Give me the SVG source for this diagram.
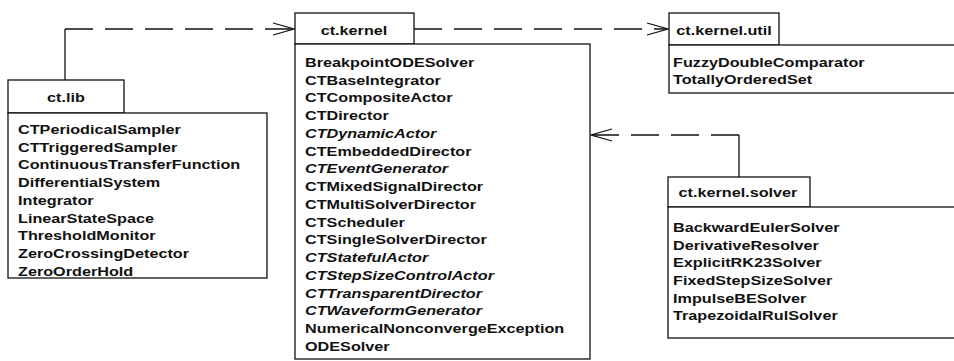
<svg xmlns="http://www.w3.org/2000/svg" width="954" height="361" viewBox="0 0 954 361">
<style>
.box{fill:#fff;stroke:#111;stroke-width:1.3}
.t{font-family:"Liberation Sans",Arial,sans-serif;font-weight:bold;font-size:13.5px;fill:#111}
.i{font-style:italic}
.h{text-anchor:middle}
.dash{fill:none;stroke:#111;stroke-width:1.3;stroke-dasharray:28 12}
.solid{fill:none;stroke:#111;stroke-width:1.3}
</style>
<rect width="954" height="361" fill="#fff"/>
<g id="connectors">
  <path class="solid" d="M65 80 V29"/>
  <path class="dash" d="M65 29 H293"/>
  <path class="solid" d="M273 23 L294 29 L273 35"/>
  <path class="dash" d="M414 29 H667"/>
  <path class="solid" d="M647 23 L668 29 L647 35"/>
  <path class="solid" d="M739 177 V135"/>
  <path class="dash" d="M739 135 H592"/>
  <path class="solid" d="M612 129 L591 135 L612 141"/>
</g>
<g id="ct.lib">
  <rect class="box" x="8" y="80" width="116" height="33"/>
  <rect class="box" x="8" y="113" width="259" height="165"/>
  <g transform="translate(66,0) scale(1.2,1)"><text class="t h" x="0" y="102">ct.lib</text></g>
  <g transform="translate(18,0) scale(1.2,1)">
    <text class="t" x="0" y="134">CTPeriodicalSampler</text>
    <text class="t" x="0" y="152">CTTriggeredSampler</text>
    <text class="t" x="0" y="169.5">ContinuousTransferFunction</text>
    <text class="t" x="0" y="187.5">DifferentialSystem</text>
    <text class="t" x="0" y="205">Integrator</text>
    <text class="t" x="0" y="223">LinearStateSpace</text>
    <text class="t" x="0" y="240.5">ThresholdMonitor</text>
    <text class="t" x="0" y="258.5">ZeroCrossingDetector</text>
    <text class="t" x="0" y="276">ZeroOrderHold</text>
  </g>
</g>
<g id="ct.kernel">
  <rect class="box" x="295" y="13" width="119" height="31"/>
  <rect class="box" x="295" y="44" width="295" height="315"/>
  <g transform="translate(354,0) scale(1.2,1)"><text class="t h" x="0" y="35">ct.kernel</text></g>
  <g transform="translate(305,0) scale(1.2,1)">
    <text class="t" x="0" y="67">BreakpointODESolver</text>
    <text class="t" x="0" y="84.75">CTBaseIntegrator</text>
    <text class="t" x="0" y="102.5">CTCompositeActor</text>
    <text class="t" x="0" y="120.25">CTDirector</text>
    <text class="t i" x="0" y="138">CTDynamicActor</text>
    <text class="t" x="0" y="155.75">CTEmbeddedDirector</text>
    <text class="t i" x="0" y="173.5">CTEventGenerator</text>
    <text class="t" x="0" y="191.25">CTMixedSignalDirector</text>
    <text class="t" x="0" y="209">CTMultiSolverDirector</text>
    <text class="t" x="0" y="226.75">CTScheduler</text>
    <text class="t" x="0" y="244.5">CTSingleSolverDirector</text>
    <text class="t i" x="0" y="262.25">CTStatefulActor</text>
    <text class="t i" x="0" y="280">CTStepSizeControlActor</text>
    <text class="t i" x="0" y="297.75">CTTransparentDirector</text>
    <text class="t i" x="0" y="315.5">CTWaveformGenerator</text>
    <text class="t" x="0" y="333.25">NumericalNonconvergeException</text>
    <text class="t" x="0" y="351">ODESolver</text>
  </g>
</g>
<g id="ct.kernel.util">
  <rect class="box" x="669" y="13" width="110" height="32"/>
  <rect class="box" x="669" y="45" width="300" height="48"/>
  <g transform="translate(724,0) scale(1.2,1)"><text class="t h" x="0" y="35">ct.kernel.util</text></g>
  <g transform="translate(673,0) scale(1.2,1)">
    <text class="t" x="0" y="67">FuzzyDoubleComparator</text>
    <text class="t" x="0" y="84">TotallyOrderedSet</text>
  </g>
</g>
<g id="ct.kernel.solver">
  <rect class="box" x="668" y="177" width="142" height="30"/>
  <rect class="box" x="668" y="207" width="300" height="131"/>
  <g transform="translate(738,0) scale(1.2,1)"><text class="t h" x="0" y="197">ct.kernel.solver</text></g>
  <g transform="translate(673,0) scale(1.2,1)">
    <text class="t" x="0" y="232">BackwardEulerSolver</text>
    <text class="t" x="0" y="250">DerivativeResolver</text>
    <text class="t" x="0" y="267">ExplicitRK23Solver</text>
    <text class="t" x="0" y="285">FixedStepSizeSolver</text>
    <text class="t" x="0" y="303">ImpulseBESolver</text>
    <text class="t" x="0" y="320">TrapezoidalRulSolver</text>
  </g>
</g>
</svg>
